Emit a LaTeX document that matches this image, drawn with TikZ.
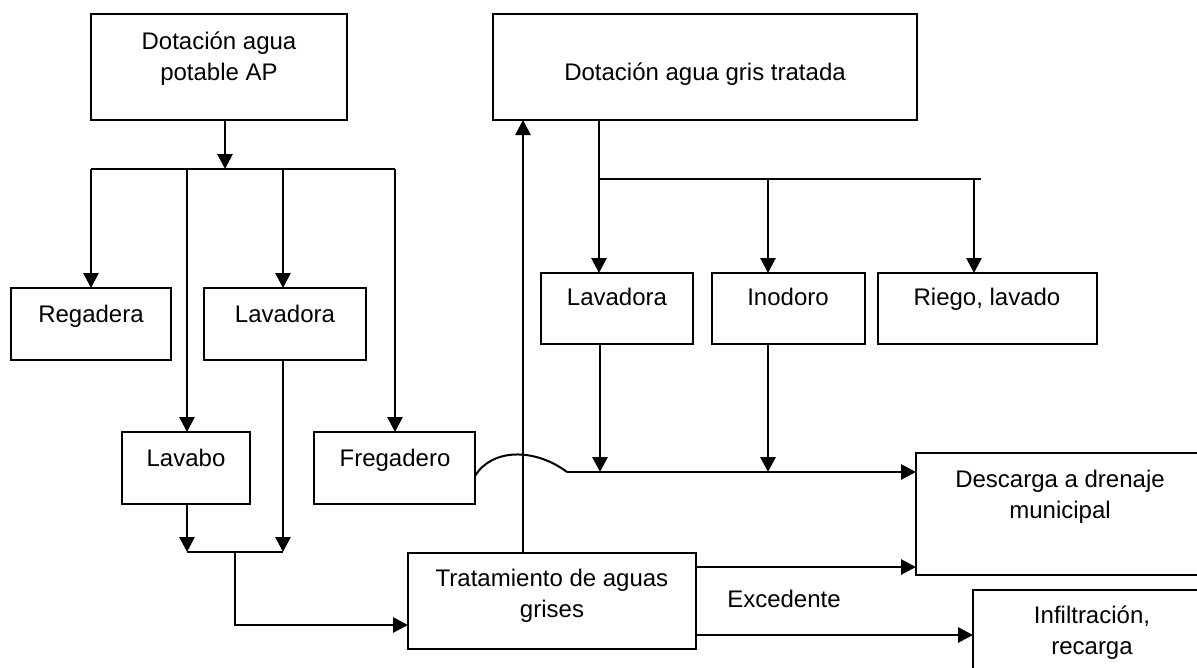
\documentclass[tikz,border=0pt]{standalone}
\usepackage{fontspec}
\setmainfont{Liberation Sans}
\usepackage{tikz}
\usetikzlibrary{arrows.meta, positioning, calc}

\tikzset{
  box/.style={draw, line width=2.5pt, inner sep=0pt, outer sep=0pt, anchor=north west},
  txt/.style={align=center, anchor=base, inner sep=0pt, font=\fontsize{24}{31}\selectfont},
  flow/.style={line width=2.8pt, -{Triangle[length=15pt,width=15pt]}},
  pipe/.style={line width=2.8pt}
}

\begin{document}
\begin{tikzpicture}[x=1pt, y=-1pt]
\useasboundingbox (0,0) rectangle (1197,667);
\clip (0,0) rectangle (1197,667);

% Boxes
\foreach \n/\xa/\ya/\xb/\yb in {ap/91/14/347/120, gris/493/14/917/120,
    reg/11/288/171/360, lavA/204/288/366/360, lavabo/122/432/250/504,
    freg/314/432/475/504, trat/408/553/696/649, lavB/541/273/693/344,
    inod/712/273/865/344, riego/878/273/1097/344, desc/916/453/1205/575,
    infil/973/590/1210/700} {
    \node[box, minimum width={(\xb-\xa)*1pt}, minimum height={(\yb-\ya)*1pt}] (\n) at (\xa,\ya) {};
}

% Texts (anchor on last baseline)
\foreach \n/\cx/\by/\t in {ap/219/80/{Dotación agua\\potable AP}, gris/705/80/{Dotación agua gris tratada},
    reg/91/322/Regadera, lavA/285/322/Lavadora, lavabo/186/466/Lavabo,
    freg/395/466/Fregadero, trat/552/617/{Tratamiento de aguas\\grises}, lavB/617/305/Lavadora,
    inod/788/305/Inodoro, riego/987/305/{Riego, lavado}, desc/1060/518/{Descarga a drenaje\\municipal},
    infil/1092/654/{Infiltración,\\recarga}} {
    \node[txt] (\n-t) at (\cx,\by) {\t};
}
\node[txt] (exc) at (784,607) {Excedente};

% Potable water branches
\coordinate (apbus) at (225,169);
\draw[flow] (ap.south -| apbus) -- (apbus);
\draw[pipe] (apbus -| reg.north) -- (395,169) coordinate (apend);
\foreach \x/\b in {91/reg, 187/lavabo, 283/lavA, 395/freg} {
    \draw[flow] (\x,169) -- (\b.north -| {(\x,0)});
}

% Collect grey water
\coordinate (gbus) at (235,552);
\draw[flow] (lavabo.south -| {(187,0)}) -- (187,552);
\draw[flow] (lavA.south -| {(283,0)}) -- (283,552);
\draw[pipe] (187,552) -- (283,552);
\draw[flow] (gbus) |- (trat.west |- {(0,625)});

% Treated grey water back up
\draw[flow] (trat.north -| {(523,0)}) -- (gris.south -| {(523,0)});
\coordinate (grbus) at (599,179);
\draw[pipe] (gris.south -| grbus) -- (grbus) -- (981,179);
\foreach \x/\b in {599/lavB, 768/inod, 974/riego} {
    \draw[flow] (\x,179) -- (\b.north -| {(\x,0)});
}

% Discharge
\coordinate (jump) at (567,472);
\draw[line width=2pt] (freg.east |- {(0,476)}) .. controls (492,448) and (535,448) .. (jump);
\draw[flow] (jump) -- (desc.west |- jump);
\foreach \x/\b in {600/lavB, 768/inod} {
    \draw[flow] (\b.south -| {(\x,0)}) -- (\x,472);
}
\draw[flow] (trat.east |- {(0,567)}) -- (desc.west |- {(0,567)});
\draw[flow] (trat.east |- {(0,635)}) -- (infil.west |- {(0,635)});

\end{tikzpicture}
\end{document}
